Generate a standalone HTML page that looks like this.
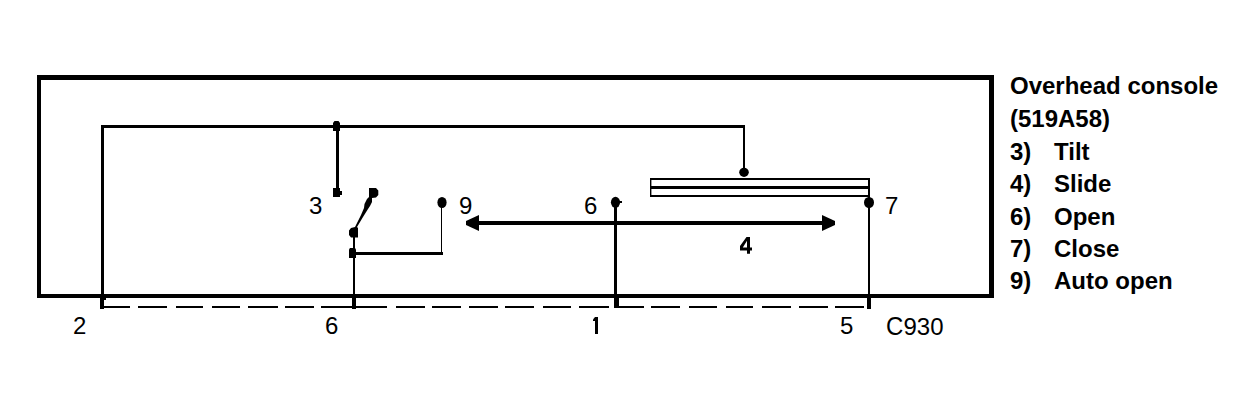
<!DOCTYPE html>
<html><head><meta charset="utf-8">
<style>
html,body{margin:0;padding:0;background:#fff;width:1255px;height:410px;overflow:hidden}
svg{display:block}
text{font-family:"Liberation Sans",sans-serif;fill:#000}
.lg{font-weight:bold;font-size:24px}
.lb{font-size:24px}
</style></head><body>
<svg width="1255" height="410" viewBox="0 0 1255 410">
<rect x="0" y="0" width="1255" height="410" fill="#fff"/>
<g fill="#000" shape-rendering="crispEdges">
<!-- outer box -->
<rect x="37" y="75" width="957" height="5"/>
<rect x="37" y="294" width="957" height="4"/>
<rect x="37" y="75" width="4" height="223"/>
<rect x="989" y="75" width="5" height="223"/>
<!-- top wire loop -->
<rect x="101" y="125" width="644" height="3"/>
<rect x="101" y="125" width="3" height="184"/>
<rect x="100" y="298" width="4" height="11"/>
<rect x="104" y="298" width="2" height="2"/>
<rect x="743" y="125" width="2" height="48"/>
<!-- wire 3 -->
<rect x="336" y="125" width="3" height="68"/>
<!-- switch lower -->
<rect x="353" y="233" width="2" height="65"/>
<rect x="352" y="294" width="4" height="15"/>
<rect x="354" y="252" width="89" height="3"/>
<rect x="441" y="202" width="1" height="52"/>
<!-- arrow shaft -->
<rect x="472" y="221" width="356" height="4"/>
<!-- wire 6 -->
<rect x="614" y="202" width="3" height="96"/>
<rect x="614" y="298" width="5" height="10"/>
<!-- double rect -->
<rect x="650" y="178" width="220" height="2"/>
<rect x="650" y="186" width="220" height="3"/>
<rect x="650" y="195" width="220" height="2"/>

<rect x="868" y="178" width="2" height="120"/>
<rect x="867" y="298" width="4" height="11"/>
<!-- junction blobs -->


<!-- dashes -->
<rect x="104" y="306" width="26" height="2"/>
<rect x="138" y="306" width="29" height="2"/>
<rect x="176" y="306" width="27" height="2"/>
<rect x="212" y="306" width="28" height="2"/>
<rect x="248" y="306" width="30" height="2"/>
<rect x="285" y="306" width="29" height="2"/>
<rect x="321" y="306" width="31" height="2"/>
<rect x="356" y="306" width="31" height="2"/>
<rect x="396" y="306" width="29" height="2"/>
<rect x="432" y="306" width="29" height="2"/>
<rect x="469" y="306" width="29" height="2"/>
<rect x="505" y="306" width="29" height="2"/>
<rect x="543" y="306" width="28" height="2"/>
<rect x="579" y="306" width="30" height="2"/>
<rect x="619" y="306" width="25" height="2"/>
<rect x="651" y="306" width="29" height="2"/>
<rect x="689" y="306" width="28" height="2"/>
<rect x="726" y="306" width="27" height="2"/>
<rect x="762" y="306" width="29" height="2"/>
<rect x="799" y="306" width="29" height="2"/>
<rect x="835" y="306" width="29" height="2"/>
<!-- digit 1 -->
<rect x="595" y="317" width="3" height="17"/>
</g>
<g fill="#000">
<rect x="650" y="178" width="1.4" height="19"/>
<!-- dots -->
<path d="M334.5,121 H338.5 L340,123 V131 H333 V123 Z"/>
<path d="M350,248 H355 L356,249.5 V258 H349 V249.5 Z"/>
<path d="M333,188 H340 V191 H342 V195 H340 V197 H333 Z"/>
<ellipse cx="442" cy="202.5" rx="4.6" ry="5.5"/>
<ellipse cx="615.5" cy="202.3" rx="4.6" ry="5.5"/>
<rect x="619" y="201" width="3" height="2"/>
<ellipse cx="744" cy="172.3" rx="4.8" ry="4.6"/>
<ellipse cx="869" cy="202.5" rx="5" ry="5.6"/>
<!-- switch blade -->
<path d="M369,188 L376,188 L378.3,190.5 L378.3,195 L376,197.5 L372,198 L372,202 L370,206 L368,209 L363,217 L357,227 L358,228 L358,237.5 L351,237.5 L349,235 L349,230.5 L351,228 L355,227 L361,215 L364,208 L364.5,204 L367,199 L369,197 Z"/>
<!-- arrow heads -->
<polygon points="466,221 479,215 479,231 466,225"/>
<polygon points="835,221 822,215 822,231 835,225"/>
<polygon points="593,319.5 595,317 595,321 593,321"/>
</g>
<!-- labels -->
<text class="lb" x="309" y="213.5">3</text>
<text class="lb" x="459" y="214">9</text>
<text class="lb" x="584" y="214">6</text>
<text class="lb" x="885" y="214">7</text>
<path fill="#000" fill-rule="evenodd" d="M740,246 L746.5,237 L750,237 L750,247.4 L752,247.4 L752,250.6 L750,250.6 L750,253.8 L747,253.8 L747,250.6 L740,250.6 Z M742.8,247.4 L747,247.4 L747,240.8 Z"/>
<text class="lb" x="73" y="334">2</text>
<text class="lb" x="325" y="334">6</text>
<text class="lb" x="840" y="334">5</text>
<text class="lb" transform="translate(886,334.6) scale(1,1.1)">C</text><text class="lb" x="903.5" y="334.5">930</text>
<!-- legend -->
<text class="lg" x="1010" y="94">Overhead console</text>
<text class="lg" x="1010" y="126.5">(519A58)</text>
<text class="lg" x="1010" y="159.5">3)</text><text class="lg" x="1054" y="159.5">Tilt</text>
<text class="lg" x="1010" y="192">4)</text><text class="lg" x="1054" y="192">Slide</text>
<text class="lg" x="1010" y="224.5">6)</text><text class="lg" x="1054" y="224.5">Open</text>
<text class="lg" x="1010" y="256.5">7)</text><text class="lg" x="1054" y="256.5">Close</text>
<text class="lg" x="1010" y="289">9)</text><text class="lg" x="1054" y="289">Auto open</text>
</svg>
</body></html>
